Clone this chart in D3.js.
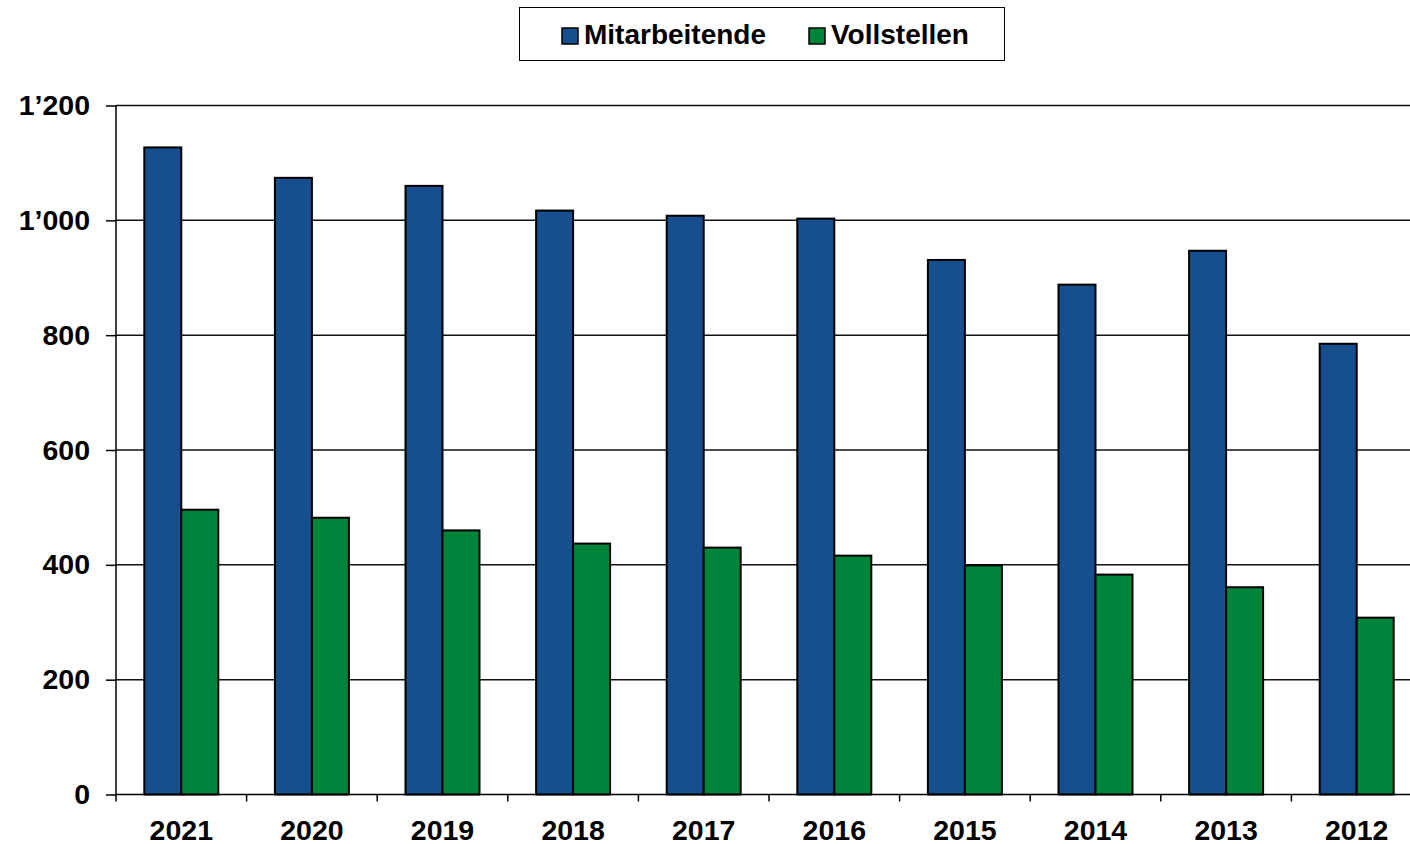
<!DOCTYPE html>
<html><head><meta charset="utf-8">
<script src="https://cdn.jsdelivr.net/npm/d3@7"></script>
<style>
html,body{margin:0;padding:0;background:#fff;}
svg{display:block;font-family:"Liberation Sans",Arial,sans-serif;font-weight:bold;}
</style></head>
<body><svg id="c" width="1410" height="844"></svg>
<script>
const years = ["2021","2020","2019","2018","2017","2016","2015","2014","2013","2012"];
const mitarbeitende = [1127,1074,1060,1017,1008,1003,931,888,947,785];
const vollstellen = [496,482,460,437,430,416,399,383,361,308];
const seriesNames = ["Mitarbeitende","Vollstellen"];
const seriesColors = ["#174F8E","#00843C"];
const yTicks = [0,200,400,600,800,1000,1200];

const svg = d3.select("#c");
const m = {left:116, top:105.5, right:1422, bottom:794.5};
const x = d3.scaleBand().domain(years).range([m.left, m.right]).paddingInner(0).paddingOuter(0);
const xs = d3.scaleBand().domain(seriesNames).range([0, x.bandwidth()]).paddingInner(0).paddingOuter(0.765);
const y = d3.scaleLinear().domain([0,1200]).range([m.bottom, m.top]);
const loc = d3.formatLocale({decimal:".", thousands:"\u2019", grouping:[3], currency:["",""]});
const fmt = loc.format(",d");
const FS = 28.5;

// gridlines
svg.append("g").selectAll("line").data(yTicks.filter(d=>d>0)).join("line")
  .attr("x1", m.left).attr("x2", 1410)
  .attr("y1", d=>y(d)).attr("y2", d=>y(d))
  .attr("stroke","#111").attr("stroke-width",1.5);

// bars
const data = years.map((yr,i)=>({year:yr, vals:[mitarbeitende[i], vollstellen[i]]}));
const g = svg.append("g");
data.forEach(d=>{
  d.vals.forEach((v,j)=>{
    g.append("rect")
      .attr("x", x(d.year)+xs(seriesNames[j]))
      .attr("y", y(v))
      .attr("width", xs.bandwidth())
      .attr("height", y(0)-y(v))
      .attr("fill", seriesColors[j])
      .attr("stroke","#000").attr("stroke-width",2);
  });
});

// y axis
const ya = svg.append("g").attr("transform",`translate(${m.left},0)`)
  .call(d3.axisLeft(y).tickValues(yTicks).tickFormat(fmt).tickSize(10).tickPadding(16));
ya.select(".domain").attr("stroke","#000").attr("stroke-width",1.5).attr("d",`M0,${m.bottom}V${m.top}`);
ya.selectAll(".tick line").attr("stroke","#000").attr("stroke-width",1.5);
ya.selectAll(".tick text").attr("font-size",FS).attr("font-weight","bold").attr("fill","#000")
  .attr("font-family","Liberation Sans, Arial, sans-serif");

// x axis
const xa = svg.append("g").attr("transform",`translate(0,${m.bottom})`)
  .call(d3.axisBottom(x).tickSize(0).tickPadding(25));
xa.select(".domain").attr("stroke","#000").attr("stroke-width",1.5).attr("d",`M${m.left},0H1410`);
xa.selectAll(".tick text").attr("font-size",FS).attr("font-weight","bold").attr("fill","#000")
  .attr("font-family","Liberation Sans, Arial, sans-serif");
// category separators ticks
svg.append("g").selectAll("line").data(years).join("line")
  .attr("x1", d=>x(d)).attr("x2", d=>x(d))
  .attr("y1", m.bottom).attr("y2", m.bottom+7)
  .attr("stroke","#000").attr("stroke-width",1.5);

// legend
const lg = svg.append("g");
lg.append("rect").attr("x",519.5).attr("y",7.5).attr("width",485).attr("height",53)
  .attr("fill","#fff").attr("stroke","#000").attr("stroke-width",1);
const legendX = [562, 809];
seriesNames.forEach((s,i)=>{
  lg.append("rect").attr("x",legendX[i]).attr("y",28).attr("width",16).attr("height",16)
    .attr("fill",seriesColors[i]).attr("stroke","#000").attr("stroke-width",1.5);
  lg.append("text").attr("x",legendX[i]+22).attr("y",44).attr("font-size",FS-0.5)
    .attr("font-weight","bold").attr("fill","#000").text(s);
});
</script></body></html>
